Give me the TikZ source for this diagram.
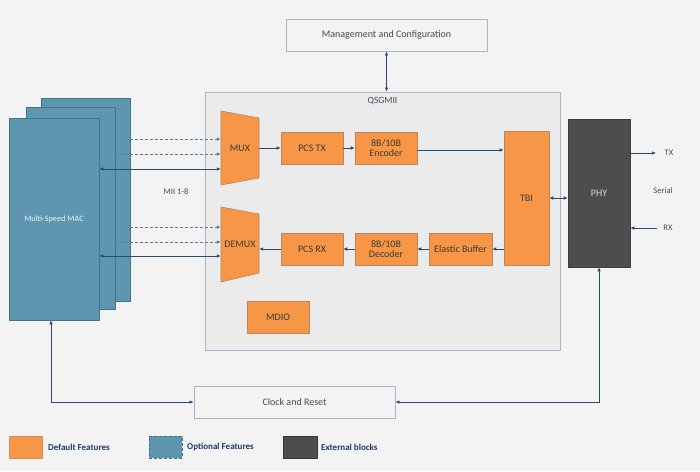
\documentclass[tikz,border=0pt]{standalone}
\usepackage{fontspec}
\setmainfont{Carlito}
\usetikzlibrary{arrows.meta,calc}
\definecolor{bg}{HTML}{F3F3F3}
\definecolor{qbg}{HTML}{EBEBEB}
\definecolor{qline}{HTML}{A9B5C6}
\definecolor{org}{HTML}{F79646}
\definecolor{orgline}{HTML}{B9865E}
\definecolor{macfill}{HTML}{5E96AF}
\definecolor{macline}{HTML}{41738B}
\definecolor{darkblk}{HTML}{4D4D4D}
\definecolor{arr}{HTML}{2A4A6E}
\definecolor{darr}{HTML}{5F7894}
\definecolor{txt}{HTML}{404A56}
\definecolor{otxt}{HTML}{3E3A36}
\definecolor{legtxt}{HTML}{1F3864}
\tikzset{
  wbox/.style={draw=qline, fill=bg, line width=0.8pt, text=txt, font=\fontsize{10}{12}\selectfont, inner sep=0pt},
  obox/.style={draw=orgline, fill=org, line width=0.6pt, text=otxt, font=\fontsize{10}{11}\selectfont, align=center, inner sep=0pt},
  macbox/.style={draw=macline, fill=macfill, line width=0.6pt, inner sep=0pt},
  lbl/.style={text=txt, font=\fontsize{8.5}{10}\selectfont, inner sep=0pt},
  legl/.style={text=legtxt, font=\bfseries\fontsize{9}{10}\selectfont, anchor=west, inner sep=0pt},
  con/.style={draw=arr, line width=0.7pt, -{Latex[length=4pt,width=3.6pt]}},
  bcon/.style={draw=arr, line width=0.7pt, {Latex[length=4pt,width=3.6pt]}-{Latex[length=4pt,width=3.6pt]}},
  dcon/.style={draw=darr, line width=0.7pt, dash pattern=on 3pt off 2pt, -{Latex[length=4pt,width=3.6pt]}},
}
\begin{document}
\begin{tikzpicture}[x=1pt,y=-1pt]
\useasboundingbox[fill=bg] (0,0) rectangle (700,471);

% Management
\node[wbox, minimum width=201pt, minimum height=32pt] (mgmt) at (386.5,35) {Management and Configuration};

% QSGMII container
\node[draw=qline, fill=qbg, line width=0.8pt, minimum width=355pt, minimum height=258pt, inner sep=0pt] (qs) at (382.5,221) {};
\node[lbl, font=\fontsize{9.5}{11}\selectfont] (qslbl) at (382.5,101) {QSGMII};

% MAC stack
\node[macbox, minimum width=89pt, minimum height=203pt] (macb) at (85.5,199.5) {};
\node[macbox, minimum width=89pt, minimum height=202pt] (macm) at (70.5,208) {};
\node[macbox, minimum width=90pt, minimum height=202pt, text=white!88!macfill, font=\fontsize{8.3}{10}\selectfont] (macf) at (54,219) {Multi-Speed MAC};

% MUX / DEMUX trapezia
\draw[draw=orgline, fill=org, line width=0.6pt] (221,111) -- (259,118) -- (259,178) -- (221,185) -- cycle;
\node[text=otxt, font=\fontsize{10}{11}\selectfont, minimum width=38pt, minimum height=74pt, inner sep=0pt] (mux) at (240,148) {MUX};
\draw[draw=orgline, fill=org, line width=0.6pt] (221,207) -- (259,214) -- (259,273) -- (221,282) -- cycle;
\node[text=otxt, font=\fontsize{10}{11}\selectfont, minimum width=38pt, minimum height=75pt, inner sep=0pt] (demux) at (240,244.5) {DEMUX};

% Orange blocks
\node[obox, minimum width=62pt, minimum height=32pt] (pcstx) at (312,148) {PCS TX};
\node[obox, minimum width=62pt, minimum height=32pt] (enc) at (386,148) {8B/10B\\[-1pt]Encoder};
\node[obox, minimum width=62pt, minimum height=32pt] (pcsrx) at (312,249) {PCS RX};
\node[obox, minimum width=62pt, minimum height=32pt] (dec) at (386,249) {8B/10B\\[-1pt]Decoder};
\node[obox, minimum width=63pt, minimum height=32pt] (eb) at (460.5,249) {Elastic Buffer};
\node[obox, minimum width=45pt, minimum height=134pt] (tbi) at (526.5,198) {TBI};
\node[obox, minimum width=62pt, minimum height=32pt] (mdio) at (278,317) {MDIO};

% PHY
\node[draw=darkblk!80!black, fill=darkblk, line width=0.6pt, minimum width=62pt, minimum height=148pt, text=white!85!black, font=\fontsize{10}{11}\selectfont, inner sep=0pt] (phy) at (599,193) {PHY};

% Clock and Reset
\node[wbox, minimum width=201pt, minimum height=32pt] (clk) at (294.5,402) {Clock and Reset};

% Labels
\node[lbl] (mii) at (176,192) {MII 1-8};
\node[lbl] (txl) at (669,153) {TX};
\node[lbl] (serl) at (663,191) {Serial};
\node[lbl] (rxl) at (668,228) {RX};
\coordinate (txend) at (656,153);
\coordinate (rxstart) at (657,228);

% Connectors
\draw[bcon] (mgmt.south) -- (mgmt.south |- qs.north);

\draw[dcon] (macb.east |- 0,139) -- (mux.west |- 0,139);
\draw[dcon] (macm.east |- 0,154) -- (mux.west |- 0,154);
\draw[bcon] (macf.east |- 0,169) -- (mux.west |- 0,169);
\draw[dcon] (macb.east |- 0,227) -- (demux.west |- 0,227);
\draw[dcon] (macm.east |- 0,242) -- (demux.west |- 0,242);
\draw[bcon] (macf.east |- 0,256) -- (demux.west |- 0,256);

\draw[con] (mux.east) -- (pcstx.west);
\draw[con] (pcstx.east) -- (enc.west);
\draw[con] (enc.east |- 0,150) -- (tbi.west |- 0,150);
\draw[con] (tbi.west |- eb.east) -- (eb.east);
\draw[con] (eb.west) -- (dec.east);
\draw[con] (dec.west) -- (pcsrx.east);
\draw[con] (pcsrx.west) -- (demux.east |- pcsrx.west);

\draw[bcon] (tbi.east) -- (phy.west |- tbi.east);
\draw[con] (phy.east |- txend) -- (txend);
\draw[con] (rxstart) -- (phy.east |- rxstart);

\draw[bcon] ($(macf.south)+(-3,0)$) |- (clk.west);
\draw[bcon] (clk.east) -| (phy.south);

% Legend
\node[draw=orgline!60!org, fill=org, line width=0.5pt, minimum width=33pt, minimum height=22pt, inner sep=0pt] (lg1) at (25.5,447) {};
\node[legl] (lt1) at (48,447) {Default Features};
\node[draw=macline, fill=macfill, line width=0.6pt, dash pattern=on 3pt off 2pt, minimum width=33pt, minimum height=22pt, inner sep=0pt] (lg2) at (165.5,447) {};
\node[legl] (lt2) at (187,447) {Optional Features};
\node[draw=darkblk!70!black, fill=darkblk, line width=0.5pt, minimum width=34pt, minimum height=22pt, inner sep=0pt] (lg3) at (300,447) {};
\node[legl] (lt3) at (321,447) {External blocks};
\end{tikzpicture}
\end{document}
